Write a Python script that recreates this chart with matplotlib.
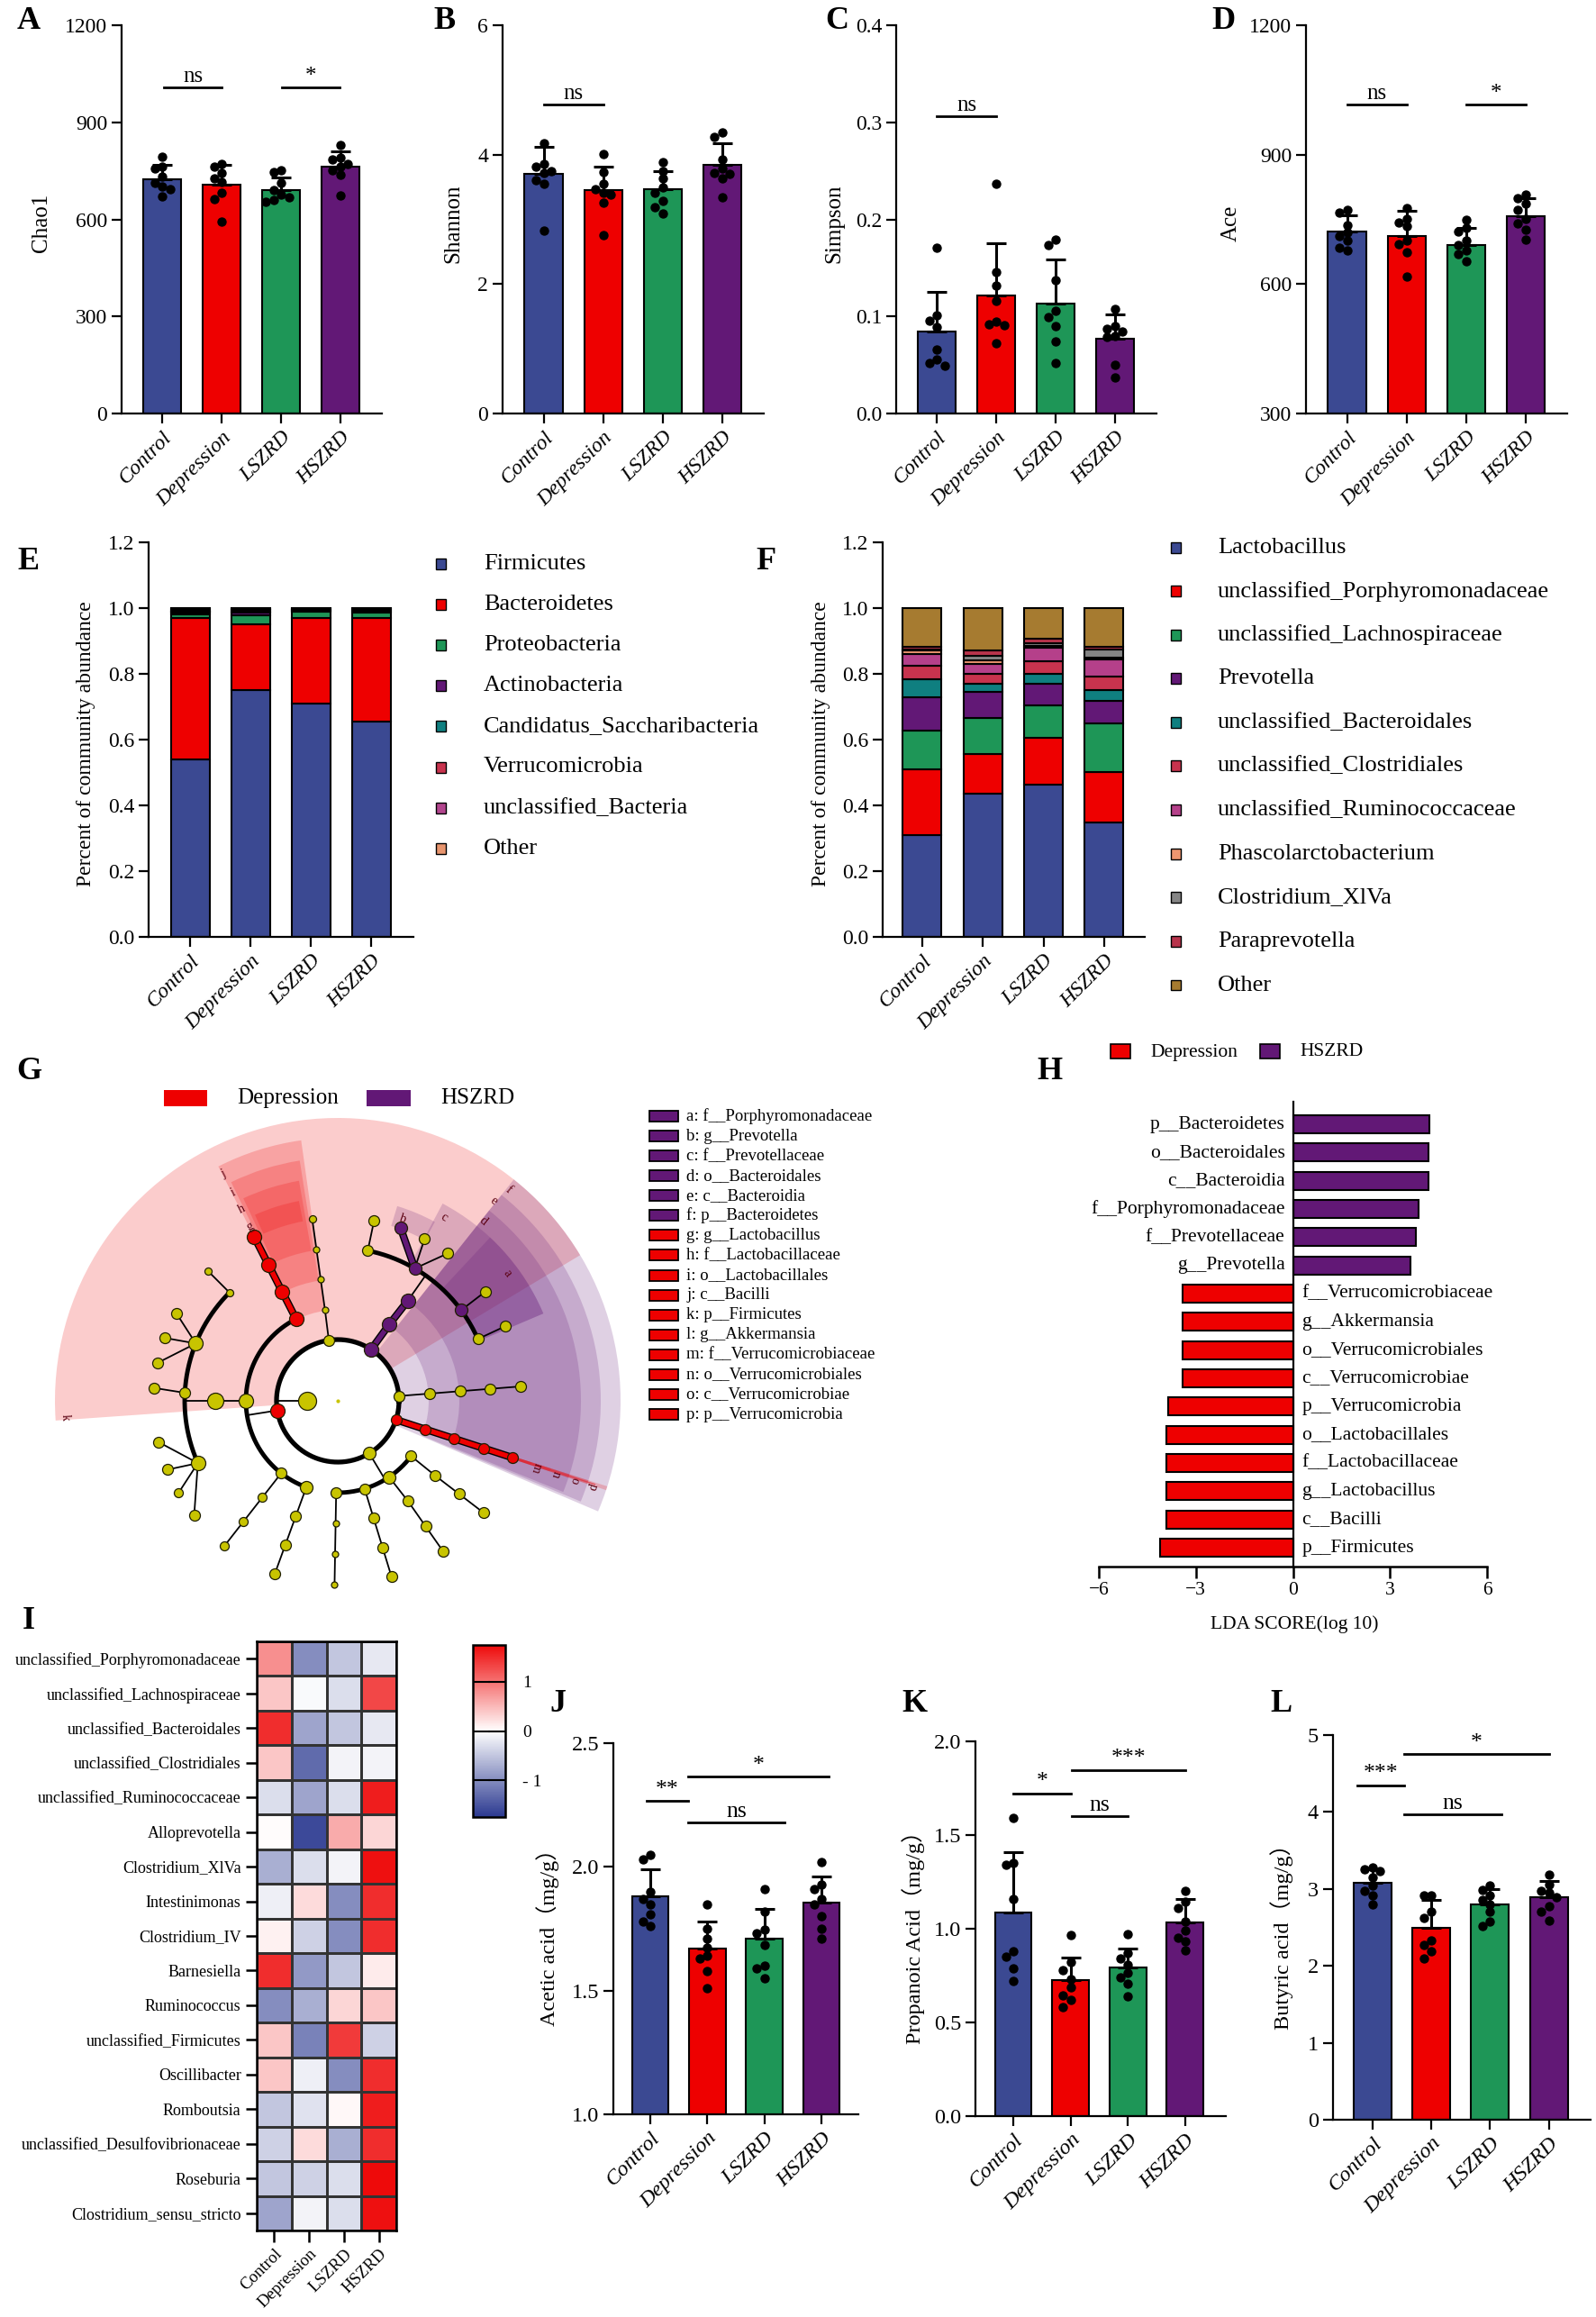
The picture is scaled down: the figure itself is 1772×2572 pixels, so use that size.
import numpy as np
import matplotlib
matplotlib.use("Agg")
import matplotlib.pyplot as plt
from matplotlib.patches import Rectangle
from matplotlib.colors import LinearSegmentedColormap, Normalize

plt.rcParams["font.family"] = ["Liberation Serif", "Noto Sans CJK SC", "DejaVu Sans"]

W, H = 1772, 2572
fig = plt.figure(figsize=(W / 100, H / 100), dpi=100)

# ---------------------------------------------------------------- data
groups = ["Control", "Depression", "LSZRD", "HSZRD"]
group_colors = ["#3B4992", "#EE0000", "#1E9657", "#621876"]

chao1_mean = [724, 707, 691, 763]
chao1_sd = [45, 62, 39, 48]
chao1_pts = [[794, 762, 757, 732, 714, 702, 694, 670],
             [770, 764, 742, 727, 716, 682, 662, 593],
             [752, 745, 712, 690, 677, 668, 660, 654],
             [831, 791, 786, 771, 762, 752, 737, 674]]

shannon_mean = [3.70, 3.45, 3.47, 3.84]
shannon_sd = [0.42, 0.37, 0.27, 0.34]
shannon_pts = [[4.18, 3.86, 3.82, 3.75, 3.71, 3.60, 3.55, 2.83],
               [4.01, 3.73, 3.55, 3.46, 3.41, 3.38, 3.26, 2.75],
               [3.88, 3.75, 3.63, 3.49, 3.41, 3.29, 3.19, 3.09],
               [4.34, 4.28, 3.92, 3.78, 3.71, 3.70, 3.64, 3.34]]

simpson_mean = [0.084, 0.122, 0.113, 0.077]
simpson_sd = [0.041, 0.053, 0.046, 0.025]
simpson_pts = [[0.171, 0.101, 0.096, 0.089, 0.066, 0.056, 0.052, 0.049],
               [0.237, 0.146, 0.132, 0.116, 0.095, 0.092, 0.091, 0.072],
               [0.179, 0.174, 0.137, 0.106, 0.099, 0.090, 0.074, 0.052],
               [0.108, 0.090, 0.087, 0.084, 0.080, 0.079, 0.050, 0.037]]

ace_mean = [721, 711, 691, 757]
ace_sd = [39, 58, 40, 43]
ace_pts = [[771, 766, 737, 719, 712, 700, 685, 678],
           [776, 752, 742, 734, 700, 693, 674, 617],
           [750, 730, 722, 700, 690, 678, 670, 652],
           [808, 800, 786, 771, 752, 740, 726, 704]]

phyla = ["Firmicutes", "Bacteroidetes", "Proteobacteria", "Actinobacteria",
         "Candidatus_Saccharibacteria", "Verrucomicrobia", "unclassified_Bacteria", "Other"]
phyla_colors = ["#3B4992", "#EE0000", "#1E9657", "#621876", "#107F80", "#C8334E", "#B2458E", "#E8956E"]
phyla_abund = np.array([  # rows: phyla, cols: groups
    [0.540, 0.750, 0.710, 0.655],
    [0.430, 0.202, 0.260, 0.315],
    [0.012, 0.027, 0.018, 0.017],
    [0.004, 0.008, 0.004, 0.004],
    [0.003, 0.003, 0.002, 0.002],
    [0.004, 0.004, 0.003, 0.003],
    [0.003, 0.003, 0.001, 0.002],
    [0.004, 0.003, 0.002, 0.002]])

genera = ["Lactobacillus", "unclassified_Porphyromonadaceae", "unclassified_Lachnospiraceae",
          "Prevotella", "unclassified_Bacteroidales", "unclassified_Clostridiales",
          "unclassified_Ruminococcaceae", "Phascolarctobacterium", "Clostridium_XlVa",
          "Paraprevotella", "Other"]
genera_colors = ["#3B4992", "#EE0000", "#1E9657", "#621876", "#0F7F80", "#C8334E",
                 "#B5408A", "#EE9670", "#858585", "#B8344C", "#A67B30"]
genera_abund = np.array([
    [0.310, 0.435, 0.464, 0.347],
    [0.200, 0.122, 0.142, 0.154],
    [0.118, 0.108, 0.098, 0.149],
    [0.100, 0.081, 0.066, 0.068],
    [0.055, 0.024, 0.029, 0.034],
    [0.041, 0.029, 0.039, 0.039],
    [0.037, 0.030, 0.041, 0.054],
    [0.010, 0.013, 0.007, 0.005],
    [0.004, 0.014, 0.007, 0.025],
    [0.008, 0.014, 0.014, 0.006],
    [0.117, 0.130, 0.093, 0.119]])

# cladogram: (name, parent, level, angle in degrees, colour, node size)
clado_nodes = [
    ("K0", None, 0, 180, "y", 10),
    ("Firm", "root", 1, 189, "r", 8),
    ("Bacilli", "Firm", 2, 117, "r", 8), ("Lactobacillales", "Bacilli", 3, 117, "r", 8),
    ("Lactobacillaceae", "Lactobacillales", 4, 117, "r", 8), ("Lactobacillus", "Lactobacillaceae", 5, 117, "r", 8),
    ("Clostridia", "Firm", 2, 180, "y", 8), ("Clostridiales", "Clostridia", 3, 180, "y", 9),
    ("fa1", "Clostridiales", 4, 135, "y", 4), ("ga1", "fa1", 5, 135, "y", 4),
    ("fa2", "Clostridiales", 4, 158, "y", 8), ("ga2", "fa2", 5, 151.5, "y", 6),
    ("ga3", "fa2", 5, 160, "y", 6), ("ga4", "fa2", 5, 168, "y", 6),
    ("fa3", "Clostridiales", 4, 177, "y", 6), ("ga5", "fa3", 5, 176, "y", 6),
    ("fa4", "Clostridiales", 4, 204, "y", 8), ("ga6", "fa4", 5, 193, "y", 6),
    ("ga7", "fa4", 5, 202, "y", 6), ("ga8", "fa4", 5, 210, "y", 5), ("ga9", "fa4", 5, 218.6, "y", 6),
    ("cl3", "Firm", 2, 232, "y", 6), ("or3", "cl3", 3, 232, "y", 5), ("fm3", "or3", 4, 232, "y", 5),
    ("gn3", "fm3", 5, 232, "y", 5),
    ("cl4", "Firm", 2, 250, "y", 7), ("or4", "cl4", 3, 250, "y", 6), ("fm4", "or4", 4, 250, "y", 6),
    ("gn4", "fm4", 5, 250, "y", 6),
    ("Ph2", "root", 1, 98.4, "y", 6), ("c2", "Ph2", 2, 98, "y", 3.5), ("o2", "c2", 3, 98, "y", 3.5),
    ("f2", "o2", 4, 98, "y", 3.5), ("g2", "f2", 5, 98, "y", 4),
    ("Bacteroidetes", "root", 1, 57, "p", 8), ("Bacteroidia", "Bacteroidetes", 2, 56, "p", 8),
    ("Bacteroidales", "Bacteroidia", 3, 55, "p", 8),
    ("fb1", "Bacteroidales", 4, 78.7, "y", 6), ("gb1", "fb1", 5, 78.6, "y", 6),
    ("Prevotellaceae", "Bacteroidales", 4, 59.8, "p", 7), ("Prevotella", "Prevotellaceae", 5, 70, "p", 7),
    ("gb2", "Prevotellaceae", 5, 61.8, "y", 6), ("gb3", "Prevotellaceae", 5, 53.3, "y", 6),
    ("Porphyromonadaceae", "Bacteroidales", 4, 36.3, "p", 7), ("gb4", "Porphyromonadaceae", 5, 36.5, "y", 6),
    ("fb4", "Bacteroidales", 4, 23.8, "y", 6), ("gb5", "fb4", 5, 24, "y", 6),
    ("Ph4", "root", 1, 4.5, "y", 6), ("c4", "Ph4", 2, 4.5, "y", 6), ("o4", "c4", 3, 4.5, "y", 6),
    ("f4", "o4", 4, 4.5, "y", 6), ("g4", "f4", 5, 4.5, "y", 6),
    ("Verrucomicrobia", "root", 1, -18, "r", 6), ("Verrucomicrobiae", "Verrucomicrobia", 2, -18, "r", 6),
    ("Verrucomicrobiales", "Verrucomicrobiae", 3, -18, "r", 6),
    ("Verrucomicrobiaceae", "Verrucomicrobiales", 4, -18, "r", 6),
    ("Akkermansia", "Verrucomicrobiaceae", 5, -18, "r", 6),
    ("Ph6", "root", 1, 301, "y", 7),
    ("c61", "Ph6", 2, 269, "y", 6), ("o61", "c61", 3, 269, "y", 3.5), ("f61", "o61", 4, 269, "y", 3.5),
    ("g61", "f61", 5, 269, "y", 3.5),
    ("c62", "Ph6", 2, 287, "y", 6), ("o62", "c62", 3, 287, "y", 6), ("f62", "o62", 4, 287, "y", 6),
    ("g62", "f62", 5, 287, "y", 6),
    ("c63", "Ph6", 2, 304, "y", 7), ("o63", "c63", 3, 305, "y", 6), ("f63", "o63", 4, 305, "y", 6),
    ("g63", "f63", 5, 305, "y", 6),
    ("c64", "Ph6", 2, 323, "y", 6), ("o64", "c64", 3, 322.5, "y", 6), ("f64", "o64", 4, 322.5, "y", 6),
    ("g64", "f64", 5, 322.5, "y", 6),
]
# highlighted clades: (letter, colour, level, angle from, angle to)
clado_clades = [
    ("k", "r", 1, 31, 184), ("j", "r", 2, 98, 117), ("i", "r", 3, 99, 116),
    ("h", "r", 4, 100, 115), ("g", "r", 5, 101, 114),
    ("f", "p", 1, -23, 51.5), ("e", "p", 2, -22.5, 51.5), ("d", "p", 3, -22, 51.5),
    ("c", "p", 4, 23, 62), ("a", "p", 4, 23, 47), ("b", "p", 5, 61.5, 73),
    ("p", "r", 1, -18.4, -17.6), ("o", "r", 2, -18.4, -17.6), ("n", "r", 3, -18.4, -17.6),
    ("m", "r", 4, -18.4, -17.6), ("l", "r", 5, -18.4, -17.6),
]
clado_label_pos = {"k": (183.4, 303), "j": (116.7, 282), "i": (116.7, 259), "h": (116.7, 238),
                   "g": (116.7, 216), "b": (70.5, 214), "c": (60, 235), "d": (51, 257),
                   "e": (52, 281), "f": (51, 302), "a": (37, 235),
                   "m": (-18.6, 232), "n": (-18.6, 255), "o": (-18.6, 277), "p": (-18.6, 298)}
clado_legend = ["a: f__Porphyromonadaceae", "b: g__Prevotella", "c: f__Prevotellaceae",
                "d: o__Bacteroidales", "e: c__Bacteroidia", "f: p__Bacteroidetes",
                "g: g__Lactobacillus", "h: f__Lactobacillaceae", "i: o__Lactobacillales",
                "j: c__Bacilli", "k: p__Firmicutes", "l: g__Akkermansia",
                "m: f__Verrucomicrobiaceae", "n: o__Verrucomicrobiales", "o: c__Verrucomicrobiae",
                "p: p__Verrucomicrobia"]

lda_taxa = ["p__Bacteroidetes", "o__Bacteroidales", "c__Bacteroidia", "f__Porphyromonadaceae",
            "f__Prevotellaceae", "g__Prevotella", "f__Verrucomicrobiaceae", "g__Akkermansia",
            "o__Verrucomicrobiales", "c__Verrucomicrobiae", "p__Verrucomicrobia",
            "o__Lactobacillales", "f__Lactobacillaceae", "g__Lactobacillus", "c__Bacilli",
            "p__Firmicutes"]
lda_scores = [4.21, 4.18, 4.18, 3.88, 3.79, 3.64, -3.42, -3.42, -3.42, -3.42, -3.86,
              -3.90, -3.90, -3.90, -3.90, -4.11]

heat_taxa = ["unclassified_Porphyromonadaceae", "unclassified_Lachnospiraceae",
             "unclassified_Bacteroidales", "unclassified_Clostridiales",
             "unclassified_Ruminococcaceae", "Alloprevotella", "Clostridium_XlVa",
             "Intestinimonas", "Clostridium_IV", "Barnesiella", "Ruminococcus",
             "unclassified_Firmicutes", "Oscillibacter", "Romboutsia",
             "unclassified_Desulfovibrionaceae", "Roseburia", "Clostridium_sensu_stricto"]
heat_z = np.array([
    [0.80, -1.00, -0.50, -0.20],
    [0.40, -0.05, -0.30, 1.30],
    [1.50, -0.80, -0.50, -0.20],
    [0.40, -1.30, -0.10, -0.10],
    [-0.30, -0.80, -0.30, 1.60],
    [0.02, -1.60, 0.60, 0.30],
    [-0.70, -0.30, -0.10, 1.70],
    [-0.15, 0.25, -1.00, 1.50],
    [0.10, -0.40, -1.00, 1.50],
    [1.50, -0.90, -0.50, 0.15],
    [-1.00, -0.70, 0.30, 0.40],
    [0.40, -1.10, 1.40, -0.40],
    [0.40, -0.15, -1.00, 1.50],
    [-0.50, -0.25, 0.05, 1.60],
    [-0.40, 0.25, -0.70, 1.50],
    [-0.50, -0.40, -0.30, 1.80],
    [-0.80, -0.10, -0.30, 1.70]])

acetic_mean = [1.88, 1.67, 1.71, 1.855]
acetic_sd = [0.11, 0.11, 0.12, 0.105]
acetic_pts = [[2.05, 2.03, 1.90, 1.87, 1.85, 1.81, 1.78, 1.76],
              [1.85, 1.75, 1.71, 1.675, 1.64, 1.63, 1.58, 1.51],
              [1.91, 1.82, 1.745, 1.73, 1.685, 1.60, 1.59, 1.55],
              [2.02, 1.93, 1.91, 1.87, 1.85, 1.80, 1.75, 1.71]]

propanoic_mean = [1.085, 0.728, 0.795, 1.032]
propanoic_sd = [0.325, 0.12, 0.10, 0.128]
propanoic_pts = [[1.59, 1.35, 1.34, 1.157, 0.88, 0.853, 0.79, 0.72],
                 [0.965, 0.82, 0.78, 0.73, 0.686, 0.646, 0.62, 0.584],
                 [0.972, 0.87, 0.84, 0.81, 0.766, 0.74, 0.708, 0.64],
                 [1.20, 1.145, 1.11, 1.04, 0.99, 0.95, 0.935, 0.885]]

butyric_mean = [3.08, 2.50, 2.80, 2.89]
butyric_sd = [0.18, 0.36, 0.20, 0.21]
butyric_pts = [[3.28, 3.26, 3.23, 3.15, 3.05, 2.97, 2.91, 2.80],
               [2.92, 2.91, 2.70, 2.62, 2.33, 2.27, 2.19, 2.10],
               [3.04, 2.99, 2.91, 2.86, 2.80, 2.70, 2.58, 2.52],
               [3.18, 3.06, 2.97, 2.95, 2.89, 2.78, 2.70, 2.59]]


# ---------------------------------------------------------------- helpers
def px_axes(l, t, r, b, **kw):
    return fig.add_axes([l / W, 1 - b / H, (r - l) / W, (b - t) / H], **kw)


def ftext(x, y, s, **kw):
    fig.text(x / W, 1 - y / H, s, **kw)


def frect(x, y, w, h, color, lw=1.0):
    fig.add_artist(Rectangle((x / W, 1 - (y + h) / H), w / W, h / H, transform=fig.transFigure,
                             facecolor=color, edgecolor="black", lw=lw))


def letter(x, y, s):
    ftext(x, y, s, fontsize=26, fontweight="bold", ha="center", va="center")


def style(ax, lw=1.6, size=17):
    for s in ["top", "right"]:
        ax.spines[s].set_visible(False)
    for s in ["left", "bottom"]:
        ax.spines[s].set_linewidth(lw)
    ax.tick_params(direction="out", length=8, width=lw, labelsize=size)


def swarm(vals, px_unit, step=0.13, dot=8.5):
    order = np.argsort(vals)[::-1]
    placed, offs = [], np.zeros(len(vals))
    for i in order:
        for cand in [0, -step, step, -2 * step, 2 * step]:
            if all(abs(cand - o) > step * 0.5 or abs(vals[i] - v) * px_unit > dot for o, v in placed):
                break
        offs[i] = cand
        placed.append((cand, vals[i]))
    return offs


def bar_panel(ax, means, sds, pts, ylim, yticks, ylabel, xlim, sig, labx, tsize=17, lsize=18):
    pos = ax.get_position()
    px_unit = pos.height * H / (ylim[1] - ylim[0])
    for i in range(4):
        ax.bar(i, means[i], width=0.64, color=group_colors[i], edgecolor="black", lw=1.5, zorder=2)
        ax.errorbar(i, means[i], yerr=[[0], [sds[i]]], fmt="none", ecolor="black",
                    elinewidth=2.2, capsize=8, capthick=2.2, zorder=3)
        offs = swarm(np.array(pts[i]), px_unit)
        ax.scatter(i + offs, pts[i], s=42, color="black", zorder=4, clip_on=False)
    ax.set_xlim(xlim)
    ax.set_ylim(ylim)
    ax.set_yticks(yticks)
    ax.set_xticks(range(4))
    ax.set_xticklabels(groups, rotation=45, ha="right", rotation_mode="anchor",
                       fontstyle="italic", fontsize=tsize)
    style(ax, size=tsize)
    ax.set_ylabel(ylabel, fontsize=lsize)
    ax.yaxis.set_label_coords(labx, 0.49)
    for x0, x1, y, lab in sig:
        ax.plot([x0, x1], [y, y], color="black", lw=2, clip_on=False)
        ax.annotate(lab, ((x0 + x1) / 2, y), xytext=(0, 1), textcoords="offset points",
                    ha="center", va="bottom", fontsize=tsize + 1)


# ---------------------------------------------------------------- A-D
xl = (-0.69, 3.70)
ax = px_axes(135, 28, 424, 459)
bar_panel(ax, chao1_mean, chao1_sd, chao1_pts, (0, 1200), [0, 300, 600, 900, 1200], "Chao1", xl,
          [(0.02, 1.0, 1008, "ns"), (2.02, 2.98, 1008, "*")], -0.27)
ax = px_axes(558, 28, 848, 459)
bar_panel(ax, shannon_mean, shannon_sd, shannon_pts, (0, 6), [0, 2, 4, 6], "Shannon", xl,
          [(0.0, 1.0, 4.77, "ns")], -0.15)
ax = px_axes(995, 28, 1284, 459)
bar_panel(ax, simpson_mean, simpson_sd, simpson_pts, (0, 0.4), [0.0, 0.1, 0.2, 0.3, 0.4], "Simpson", xl,
          [(0.0, 1.0, 0.306, "ns")], -0.20)
ax.set_yticklabels(["0.0", "0.1", "0.2", "0.3", "0.4"])
ax = px_axes(1450, 28, 1740, 459)
bar_panel(ax, ace_mean, ace_sd, ace_pts, (300, 1200), [300, 600, 900, 1200], "Ace", xl,
          [(0.0, 1.0, 1016, "ns"), (2.0, 3.0, 1016, "*")], -0.25)
letter(32, 24, "A")
letter(494, 24, "B")
letter(929, 24, "C")
letter(1358, 24, "D")


# ---------------------------------------------------------------- E, F
def stack_panel(ax, abund, colors, xlim):
    bottom = np.zeros(4)
    for k in range(abund.shape[0]):
        ax.bar(range(4), abund[k], bottom=bottom, width=0.64, color=colors[k],
               edgecolor="black", lw=1.5, zorder=2)
        bottom += abund[k]
    ax.set_xlim(xlim)
    ax.set_ylim(0, 1.2)
    ax.set_yticks(np.arange(0, 1.21, 0.2))
    ax.set_yticklabels(["0.0", "0.2", "0.4", "0.6", "0.8", "1.0", "1.2"])
    ax.set_xticks(range(4))
    ax.set_xticklabels(groups, rotation=45, ha="right", rotation_mode="anchor",
                       fontstyle="italic", fontsize=17)
    style(ax)
    ax.set_ylabel("Percent of community abundance", fontsize=17)
    ax.yaxis.set_label_coords(-0.20, 0.49)


ax = px_axes(165, 602, 459, 1040)
stack_panel(ax, phyla_abund, phyla_colors, (-0.69, 3.70))
for k, name in enumerate(phyla):
    y = 626 + 45.1 * k
    frect(484, y - 6, 11, 12, phyla_colors[k])
    ftext(537, y, name, fontsize=19, va="center", ha="left")

ax = px_axes(980, 602, 1271, 1040)
stack_panel(ax, genera_abund, genera_colors, (-0.65, 3.67))
for k, name in enumerate(genera):
    y = 607.5 + 48.6 * k
    frect(1300, y - 6, 11, 12, genera_colors[k])
    ftext(1352, y, name, fontsize=19, va="center", ha="left")
letter(32, 624, "E")
letter(850, 624, "F")

# ---------------------------------------------------------------- G cladogram
cmap_g = {"r": "#EE0000", "p": "#621876", "y": "#C8C400"}
ring = lambda lev: 34.0 * (lev + 1)
gax = px_axes(55, 1235, 695, 1875, projection="polar")
gax.set_ylim(0, 320)
gax.axis("off")
for lab, c, lev, a0, a1 in clado_clades:
    r_in, r_out = ring(lev) - 1, 314 - 22 * (lev - 1)
    gax.bar(np.deg2rad((a0 + a1) / 2), r_out - r_in, width=np.deg2rad(a1 - a0), bottom=r_in,
            color=cmap_g[c], alpha=0.2, lw=0, zorder=1)
for lab, (a, r) in clado_label_pos.items():
    gax.text(np.deg2rad(a), r, lab, fontsize=10, color="#5a0010", ha="center", va="center",
             rotation=a - 90 if a < 180 else a - 270, zorder=6)
# lines
node_by = {n[0]: n for n in clado_nodes}
theta = np.linspace(0, 2 * np.pi, 400)
gax.plot(theta, np.full_like(theta, ring(1)), color="black", lw=3.8, zorder=2)
k0 = node_by["K0"]
gax.plot([np.deg2rad(k0[3])] * 2, [ring(0), ring(1)], color="black", lw=1.3, zorder=2)
children = {}
for n in clado_nodes:
    if n[1] and n[1] != "root":
        children.setdefault(n[1], []).append(n)
for pname, kids in children.items():
    p = node_by[pname]
    rp, ap = ring(p[2]), p[3]
    if len(kids) > 1 and kids[0][2] <= 4:
        angs = [k[3] for k in kids]
        rc = ring(kids[0][2])
        t = np.deg2rad(np.linspace(min(angs), max(angs), 200))
        gax.plot(t, np.full_like(t, rc), color="black", lw=3.5, zorder=2)
        gax.plot([np.deg2rad(ap)] * 2, [rp, rc], color="black", lw=1.3, zorder=2)
        continue
    for k in kids:
        rc, ac = ring(k[2]), k[3]
        tt = np.deg2rad([ap, ac])
        if k[4] != "y":
            gax.plot(tt, [rp, rc], color="black", lw=6, zorder=2, solid_capstyle="butt")
            gax.plot(tt, [rp, rc], color=cmap_g[k[4]], lw=4, zorder=2, solid_capstyle="butt")
        else:
            gax.plot(tt, [rp, rc], color="black", lw=1.3, zorder=2)
gax.plot(np.deg2rad([-18, -18]), [ring(5), 300], color="#E0303A", lw=1.0, alpha=0.7, zorder=2)
for n in clado_nodes:
    gax.scatter(np.deg2rad(n[3]), ring(n[2]), s=(2 * n[5] * 0.72) ** 2, color=cmap_g[n[4]],
                edgecolor="#202000", lw=0.9, zorder=4)
gax.scatter([0], [0], s=4, color=cmap_g["y"], zorder=4)

frect(182, 1210, 48, 18, "#EE0000", lw=0)
ftext(263, 1219, "Depression", fontsize=18, va="center")
frect(407, 1210, 49, 18, "#621876", lw=0)
ftext(489, 1219, "HSZRD", fontsize=18, va="center")
for k, s in enumerate(clado_legend):
    y = 1239 + 22.07 * k
    frect(721, y - 6, 32, 12, "#621876" if k < 6 else "#EE0000", lw=1.3)
    ftext(762, y, s, fontsize=13.5, va="center")
letter(32, 1189, "G")

# ---------------------------------------------------------------- H LDA
hax = px_axes(1220, 1223, 1651, 1739)
ypos = np.arange(len(lda_taxa))
hax.barh(ypos, lda_scores, height=0.64,
         color=["#621876" if v > 0 else "#EE0000" for v in lda_scores],
         edgecolor="black", lw=1.5, zorder=2)
hax.set_xlim(-6, 6)
hax.set_ylim(15.67, -0.8)
hax.spines["top"].set_visible(False)
hax.spines["right"].set_visible(False)
hax.spines["left"].set_position(("data", 0))
hax.spines["left"].set_linewidth(1.6)
hax.spines["bottom"].set_linewidth(1.8)
hax.set_xticks([-6, -3, 0, 3, 6])
hax.tick_params(axis="x", direction="out", length=9, width=1.8, labelsize=15.5)
hax.tick_params(axis="y", left=False, labelleft=False)
for yv, name, v in zip(ypos, lda_taxa, lda_scores):
    if v > 0:
        hax.text(-0.25, yv, name, ha="right", va="center", fontsize=15.5)
    else:
        hax.text(0.27, yv, name, ha="left", va="center", fontsize=15.5)
ftext(1437, 1803, "LDA SCORE(log 10)", fontsize=15.5, ha="center", va="center")
frect(1233, 1159, 22, 16, "#EE0000", lw=1.2)
ftext(1277, 1168, "Depression", fontsize=15.5, va="center")
frect(1399, 1159, 22, 16, "#621876", lw=1.2)
ftext(1443, 1168, "HSZRD", fontsize=15.5, va="center")
letter(1165, 1189, "H")

# ---------------------------------------------------------------- I heatmap
heat_cmap = LinearSegmentedColormap.from_list("bwr2", ["#2B3990", "#FFFFFF", "#EE0A0A"])
norm = Normalize(-1.75, 1.75)
iax = px_axes(285, 1822, 440, 2476)
mesh = iax.pcolormesh(heat_z, cmap=heat_cmap, norm=norm, edgecolors="#333333", lw=1.0)
iax.set_xlim(0, 4)
iax.set_ylim(len(heat_taxa), 0)
iax.set_yticks(np.arange(len(heat_taxa)) + 0.5)
iax.set_yticklabels(heat_taxa, fontsize=13)
iax.set_xticks(np.arange(4) + 0.5)
iax.set_xticklabels(groups, rotation=45, ha="right", rotation_mode="anchor", fontsize=13.5)
for s in iax.spines.values():
    s.set_linewidth(1.8)
iax.tick_params(direction="out", length=9, width=1.8)
cax = px_axes(525, 1826, 561, 2017)
cb = fig.colorbar(mesh, cax=cax, ticks=[-1, 0, 1])
cb.ax.set_yticklabels(["- 1", "0", "1"], fontsize=14)
cb.outline.set_linewidth(1.8)
cb.ax.tick_params(direction="in", left=True, right=True, length=14, width=1.5, pad=14)
letter(32, 1799, "I")

# ---------------------------------------------------------------- J-L
ax = px_axes(681, 1935, 953, 2347)
bar_panel(ax, acetic_mean, acetic_sd, acetic_pts, (1.0, 2.5), [1.0, 1.5, 2.0, 2.5], "Acetic acid（mg/g）",
          (-0.65, 3.65), [(-0.07, 0.67, 2.267, "**"), (0.67, 2.35, 2.18, "ns"), (0.67, 3.13, 2.365, "*")],
          -0.22, tsize=17.5, lsize=17.5)
ax = px_axes(1083, 1933, 1361, 2349)
bar_panel(ax, propanoic_mean, propanoic_sd, propanoic_pts, (0, 2.0), [0.0, 0.5, 1.0, 1.5, 2.0],
          "Propanoic Acid（mg/g）", (-0.66, 3.71),
          [(0.0, 1.0, 1.723, "*"), (1.02, 2.0, 1.60, "ns"), (1.02, 3.0, 1.848, "***")], -0.20,
          tsize=17.5, lsize=17.5)
ax.set_yticklabels(["0.0", "0.5", "1.0", "1.5", "2.0"])
ax = px_axes(1480, 1926, 1766, 2353)
bar_panel(ax, butyric_mean, butyric_sd, butyric_pts, (0, 5), [0, 1, 2, 3, 4, 5], "Butyric acid（mg/g）",
          (-0.67, 3.71), [(-0.26, 0.54, 4.35, "***"), (0.54, 2.19, 3.97, "ns"), (0.54, 3.0, 4.75, "*")],
          -0.155, tsize=17.5, lsize=17.5)
letter(619, 1892, "J")
letter(1015, 1892, "K")
letter(1422, 1892, "L")

fig.savefig("out.png", dpi=100)
